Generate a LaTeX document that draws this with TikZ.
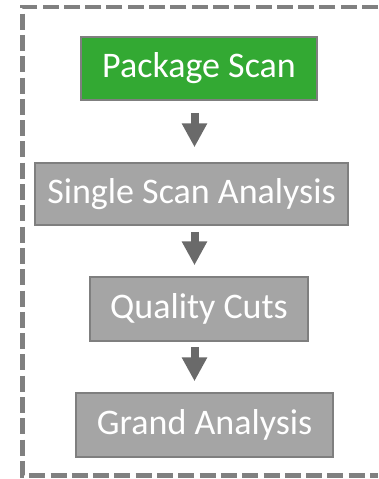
\documentclass[tikz,border=0pt]{standalone}
\usepackage{fontspec}
\setmainfont{Carlito}
\usetikzlibrary{arrows.meta,calc}
\definecolor{stepgreen}{HTML}{33A933}
\definecolor{stepgray}{HTML}{A5A5A5}
\definecolor{edgegray}{HTML}{7F7F7F}
\definecolor{arrowgray}{HTML}{6A6A6A}
\definecolor{framegray}{HTML}{808080}
\tikzset{
  stepbox/.style={draw=edgegray, line width=1.5pt, fill=stepgray, text=white,
    inner sep=0pt, font=\fontsize{36}{43}\selectfont},
  flowarrow/.style={draw=arrowgray, line width=8pt,
    -{Triangle[width=24pt,length=24pt]}, arrowgray},
  frame/.style={draw=framegray, line width=4.5pt, dash pattern=on 16pt off 5.3pt}
}
\begin{document}
\begin{tikzpicture}[x=1pt,y=-1pt]
  \useasboundingbox (0,0) rectangle (378,479);
  % dashed enclosure, open on the right
  \draw[frame] (378,7) -- (22.5,7) -- (22.5,475.5) -- (378,475.5);
  % process steps
  \node[stepbox, fill=stepgreen, minimum width=236pt, minimum height=63pt] (pkg) at (199,68.5) {Package Scan};
  \node[stepbox, minimum width=313pt, minimum height=62pt] (single) at (191.5,194) {Single Scan Analysis};
  \node[stepbox, minimum width=218pt, minimum height=64pt] (qual) at (199,309) {Quality Cuts};
  \node[stepbox, minimum width=257pt, minimum height=64pt] (grand) at (204.5,425) {Grand Analysis};
  % arrows run along a common axis
  \coordinate (axis) at (194.5,0);
  \draw[flowarrow, shorten <=12pt, shorten >=15pt] (pkg.south -| axis) -- (single.north -| axis);
  \draw[flowarrow, shorten <=6pt, shorten >=11pt] (single.south -| axis) -- (qual.north -| axis);
  \draw[flowarrow, shorten <=5pt, shorten >=11pt] (qual.south -| axis) -- (grand.north -| axis);
\end{tikzpicture}
\end{document}
